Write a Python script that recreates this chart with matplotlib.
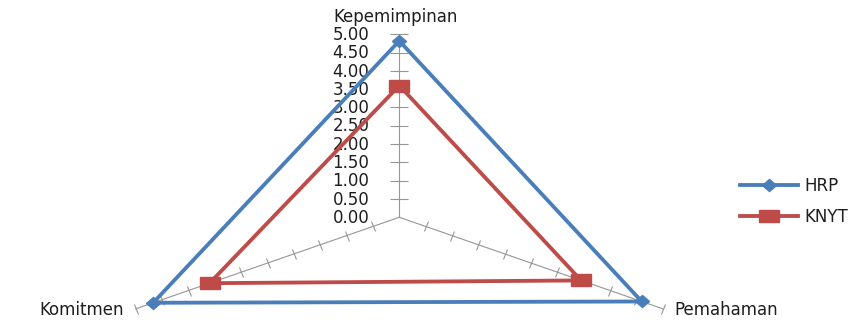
import numpy as np
import matplotlib
matplotlib.use("Agg")
import matplotlib.pyplot as plt
from matplotlib.markers import MarkerStyle
from matplotlib.transforms import Affine2D

# --- data -------------------------------------------------------------
categories = ["Kepemimpinan", "Pemahaman", "Komitmen"]
series_names = ["HRP", "KNYT"]
hrp_values = [4.82, 4.60, 4.67]
knyt_values = [3.60, 3.45, 3.60]
radial_ticks = [0.0, 0.5, 1.0, 1.5, 2.0, 2.5, 3.0, 3.5, 4.0, 4.5, 5.0]
radial_tick_labels = ["0.00", "0.50", "1.00", "1.50", "2.00", "2.50",
                      "3.00", "3.50", "4.00", "4.50", "5.00"]
r_max = 5.0

# --- styling ----------------------------------------------------------
BLUE = "#4A7EBB"
RED = "#BE4B48"
GRID = "#969696"
TEXT = "#1E1E1E"
FS = 12
plt.rcParams["font.family"] = ["DejaVu Sans"]

W, H, DPI = 859, 320, 100
fig = plt.figure(figsize=(W / DPI, H / DPI), dpi=DPI)
ax = fig.add_axes([0, 0, 1, 1])
ax.set_axis_off()

# pixel scale of one radial unit (the chart is wider than it is tall)
cx, cy = 399.3, 217.3
sx, sy = 60.85, 36.6
ax.set_xlim(-cx / sx, (W - cx) / sx)
ax.set_ylim((cy - H) / sy, cy / sy)

n = len(categories)
theta = np.arange(n) * 2 * np.pi / n  # clockwise from the top


def to_xy(r, t):
    return np.asarray(r) * np.sin(t), np.asarray(r) * np.cos(t)


# spokes with cross tick marks
ticks = np.array(radial_ticks[1:])
for t in theta:
    ex, ey = to_xy(r_max, t)
    ax.plot([0, ex], [0, ey], color=GRID, lw=0.8, zorder=1)
    # screen angle of the spoke, used to turn the tick marks across it
    p0 = ax.transData.transform((0, 0))
    p1 = ax.transData.transform((ex, ey))
    ang = np.degrees(np.arctan2(p1[1] - p0[1], p1[0] - p0[0])) + 90
    is_vertical = abs(np.sin(t)) < 1e-9
    ms = 13.5 if is_vertical else 8.0
    tx, ty = to_xy(ticks, t)
    ax.plot(tx, ty, ls="none", color=GRID,
            marker=MarkerStyle("_", transform=Affine2D().rotate_deg(ang)),
            markersize=ms, markeredgewidth=0.8, zorder=1)

# value labels along the first spoke
for v, lab in zip(radial_ticks, radial_tick_labels):
    ax.annotate(lab, xy=to_xy(v, theta[0]), xytext=(-21.5, -0.5),
                textcoords="offset points", ha="right", va="center",
                fontsize=FS, color=TEXT)

# category labels at the spoke ends
label_offsets = [(-3, 8.5, "center"), (8, -4.8, "left"), (-8.5, -4.8, "right")]
for cat, t, (dx, dy, ha) in zip(categories, theta, label_offsets):
    ax.annotate(cat, xy=to_xy(r_max, t), xytext=(dx, dy),
                textcoords="offset points", ha=ha, va="baseline",
                fontsize=FS, color=TEXT)

# series
diamond = MarkerStyle("D", transform=Affine2D().scale(1.15, 1.0))
square = MarkerStyle("s", transform=Affine2D().scale(1.55, 1.0))
series = [(hrp_values, BLUE, diamond, 6.3), (knyt_values, RED, square, 9.2)]
handles = []
for name, (vals, col, mk, msz) in zip(series_names, series):
    vx, vy = to_xy(vals, theta)
    vx = np.append(vx, vx[0])
    vy = np.append(vy, vy[0])
    ln, = ax.plot(vx, vy, color=col, lw=2.75, marker=mk, markersize=msz,
                  markerfacecolor=col, markeredgecolor=col,
                  solid_joinstyle="miter", label=name, zorder=3,
                  markevery=list(range(n)))
    handles.append(ln)

fig.legend(handles=handles, labels=series_names, loc="upper left",
           bbox_to_anchor=(740 / W, 1 - 177 / H), bbox_transform=fig.transFigure,
           frameon=False, borderpad=0, borderaxespad=0, handlelength=3.45,
           handletextpad=0.4, labelspacing=0.75, fontsize=FS,
           labelcolor=TEXT)

fig.savefig("out.png", dpi=DPI)
